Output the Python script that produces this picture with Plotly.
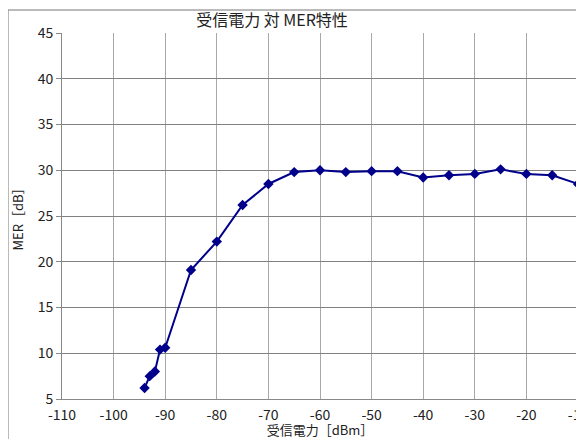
import plotly.graph_objects as go

power_dbm = [-94, -93, -92, -91, -90, -85, -80, -75, -70, -65, -60, -55, -50, -45,
             -40, -35, -30, -25, -20, -15, -10]
mer_db = [6.2, 7.5, 8.0, 10.4, 10.6, 19.1, 22.2, 26.2, 28.5, 29.8, 30.0, 29.8, 29.9, 29.9,
          29.2, 29.45, 29.6, 30.1, 29.6, 29.45, 28.5]

x_ticks = [-110, -100, -90, -80, -70, -60, -50, -40, -30, -20, -10]
y_ticks = [5, 10, 15, 20, 25, 30, 35, 40, 45]

FONT = "Noto Sans CJK JP"
TXT = "#222"

# the page body has an 8px margin, so the figure is sized/offset to compensate
W, H = 576, 431
L, R, T, B = 54, 6, 25, 40

fig = go.Figure()
fig.add_trace(go.Scatter(
    x=power_dbm, y=mer_db, mode="lines+markers",
    line=dict(color="#00008B", width=2),
    marker=dict(symbol="diamond", size=8, color="#00008B"),
    showlegend=False,
    cliponaxis=False,
))

fig.update_layout(
    width=W, height=H,
    margin=dict(l=L, r=R, t=T, b=B),
    paper_bgcolor="white", plot_bgcolor="white",
    font=dict(family=FONT, color=TXT),
    title=dict(text="受信電力 対 MER特性", x=264 / W, xanchor="center", xref="container",
               y=1 - 12 / H, yanchor="middle", yref="container",
               font=dict(family=FONT, size=16, color=TXT)),
    xaxis=dict(range=[-110, -10], tickvals=x_ticks, ticktext=[str(v) for v in x_ticks],
               showgrid=True, gridcolor="#a8a8a8", gridwidth=1,
               showline=True, linecolor="#888", linewidth=1, mirror=False,
               ticks="outside", ticklen=3, tickcolor="rgba(0,0,0,0)", zeroline=False,
               automargin=False, ticklabeloverflow="allow",
               tickfont=dict(family=FONT, size=14, color=TXT),
               title=dict(text="受信電力［dBm］", font=dict(family=FONT, size=13, color=TXT),
                          standoff=1)),
    yaxis=dict(range=[5, 45], tickvals=y_ticks,
               showgrid=True, gridcolor="#808080", gridwidth=1,
               showline=True, linecolor="#888", linewidth=1,
               ticks="outside", ticklen=5, tickcolor="#888", zeroline=False,
               automargin=False,
               tickfont=dict(family=FONT, size=14, color=TXT),
               title=dict(text="MER［dB］", font=dict(family=FONT, size=13, color=TXT),
                          standoff=11)),
)

pw = W - L - R
ph = H - T - B
fx = (0 - L) / pw
fy = 1 + (T - 2) / ph
fig.add_shape(type="line", xref="paper", yref="paper",
              x0=fx, x1=1.1, y0=fy, y1=fy, line=dict(color="#777", width=1))
fig.add_shape(type="line", xref="paper", yref="paper",
              x0=fx, x1=fx, y0=fy, y1=-0.2, line=dict(color="#777", width=1))
fig.add_shape(type="line", xref="paper", yref="paper", x0=1, x1=1, y0=0, y1=1,
              line=dict(color="#666", width=1))

fig.write_html("out.html")
